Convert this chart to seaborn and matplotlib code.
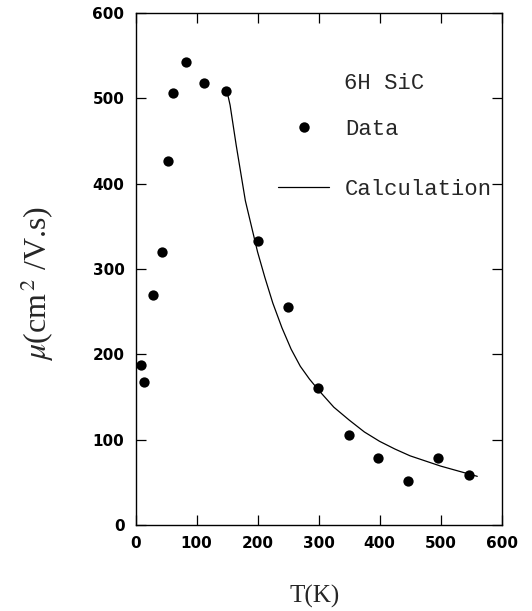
import matplotlib
matplotlib.use("Agg")
import matplotlib.pyplot as plt
import seaborn as sns
import pandas as pd
from matplotlib.lines import Line2D

# Measured Hall mobility of 6H SiC versus temperature
temp_data = [9, 14.5, 28, 44, 54, 62, 83, 112, 148, 201, 250, 299, 350, 397, 447, 496, 546]
mobility_data = [188, 168, 270, 320, 427, 506, 542, 518, 508, 333, 256, 160, 106, 79, 52, 78, 59]

# Calculated mobility curve
temp_calc = [150, 155, 165, 180, 190, 200, 212, 225, 240, 255, 270, 285, 300,
             325, 350, 375, 400, 425, 450, 475, 500, 530, 560]
mobility_calc = [508, 492, 445, 380, 350, 320, 290, 260, 231, 206, 186, 171, 158,
                 138, 123, 109, 98, 89, 81, 75, 69, 63, 57]

x_ticks = [0, 100, 200, 300, 400, 500, 600]
y_ticks = [0, 100, 200, 300, 400, 500, 600]

sns.set_theme(style="ticks")
plt.rcParams["font.family"] = ["DejaVu Sans"]
plt.rcParams["mathtext.fontset"] = "stix"

df_data = pd.DataFrame({"T": temp_data, "mu": mobility_data})
df_calc = pd.DataFrame({"T": temp_calc, "mu": mobility_calc})

fig = plt.figure(figsize=(5.32, 6.11), dpi=100)
ax = fig.add_axes([0.2547, 0.1408, 0.6883, 0.838])

sns.lineplot(data=df_calc, x="T", y="mu", ax=ax, color="black", linewidth=0.9,
             legend=False)
sns.scatterplot(data=df_data, x="T", y="mu", ax=ax, color="black", s=55,
                edgecolor="black", linewidth=0, legend=False, zorder=3)

ax.set_xlim(0, 600)
ax.set_ylim(0, 600)
ax.set_xticks(x_ticks)
ax.set_yticks(y_ticks)
ax.tick_params(direction="in", length=7, width=0.9, top=True, right=True,
               labelsize=11, pad=8, colors="black")
for lab in ax.get_xticklabels() + ax.get_yticklabels():
    lab.set_fontweight("semibold")
for sp in ax.spines.values():
    sp.set_linewidth(1.0)
    sp.set_color("black")

ax.set_xlabel("T(K)", family="Liberation Serif", fontsize=18)
ax.xaxis.set_label_coords(0.49, -0.117)
ax.set_ylabel(r"$\mu$(cm$^{\,2}$ /V.s)", family="Liberation Serif", fontsize=23)
ax.yaxis.set_label_coords(-0.217, 0.472)

mono = {"family": "Liberation Mono", "size": 16}
ax.text(0.57, 0.863, "6H SiC", transform=ax.transAxes, fontdict=mono,
        va="center", ha="left")

handles = [
    Line2D([], [], linestyle="none", marker="o", markersize=7.5,
           color="black", markeredgewidth=0),
    Line2D([], [], color="black", linewidth=0.9),
]
leg = ax.legend(handles, ["Data", "Calculation"], prop={"family": "Liberation Mono", "size": 16},
                frameon=False, loc="upper left", bbox_to_anchor=(0.39, 0.793),
                handlelength=2.3, handletextpad=0.7, labelspacing=1.75,
                borderaxespad=0, borderpad=0)

fig.savefig("out.png", dpi=100)
